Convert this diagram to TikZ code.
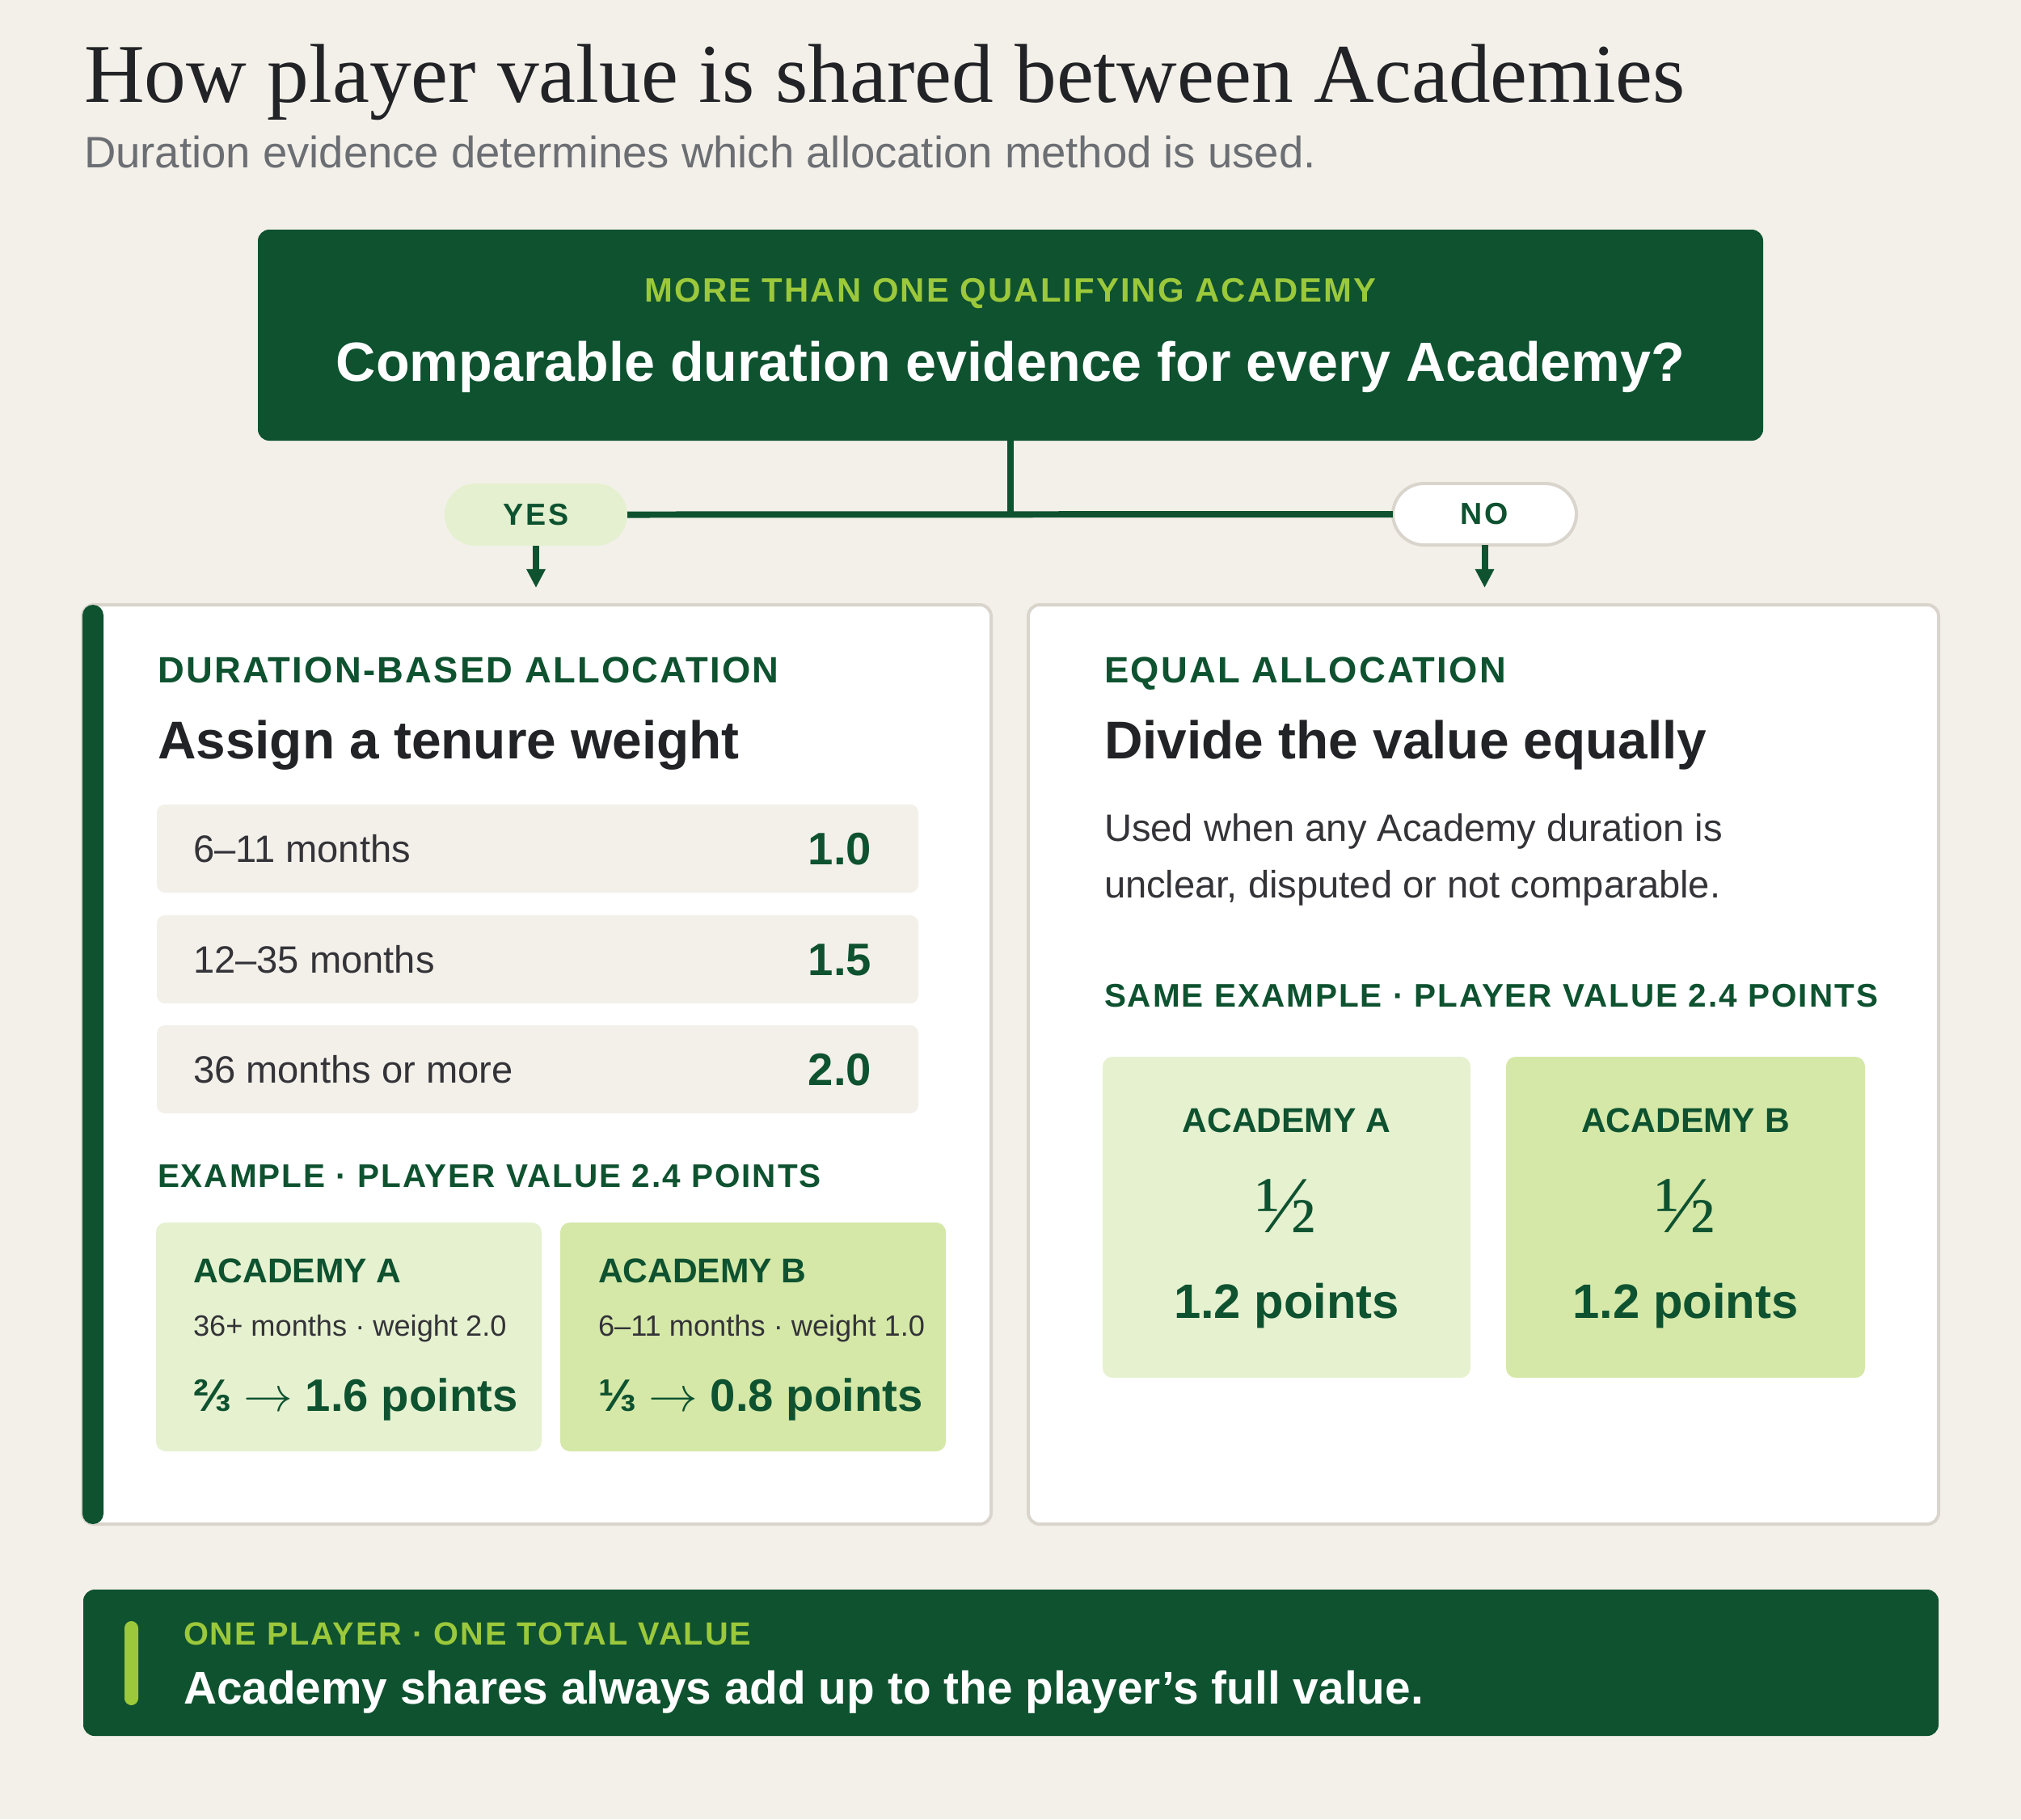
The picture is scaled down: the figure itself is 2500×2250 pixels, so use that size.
\documentclass[tikz,border=0pt]{standalone}
\usepackage{fontspec}
\setmainfont{Liberation Sans}
\newfontfamily\serifx{Liberation Serif}
\newfontfamily\trk[LetterSpace=5]{Liberation Sans}
\newfontfamily\trkw[LetterSpace=7]{Liberation Sans}
\usetikzlibrary{arrows.meta,fit}
\definecolor{bg}{HTML}{F3F0E9}
\definecolor{dkgreen}{HTML}{0E5230}
\definecolor{lime}{HTML}{9CC83B}
\definecolor{paleA}{HTML}{E6F1D0}
\definecolor{paleB}{HTML}{D5E8A8}
\definecolor{paleyes}{HTML}{E4F0CF}
\definecolor{rowfill}{HTML}{F3F0EA}
\definecolor{cardline}{HTML}{D9D5CD}
\definecolor{inkdark}{HTML}{222326}
\definecolor{inkbody}{HTML}{333338}
\definecolor{inkgray}{HTML}{6B6E73}
\newcommand{\fsz}[1]{\fontsize{#1}{#1}\selectfont}
\newcommand{\rarr}{\ensuremath{\rightarrow}}
\tikzset{
  fitbox/.style={rectangle, inner sep=0pt, outer sep=0pt},
  card/.style={fitbox, fill=white, draw=cardline, line width=1.13pt, rounded corners=0.14cm},
  rowbox/.style={fitbox, fill=rowfill, rounded corners=0.1cm},
  txt/.style={inner sep=0pt, outer sep=0pt, anchor=base west},
  conn/.style={draw=dkgreen, line width=2.27pt},
  tip/.style={-{Triangle[width=0.22cm,length=0.23cm]}},
  kicker/.style={txt, text=dkgreen, font=\trk\bfseries\fsz{12.9pt}},
  smallkick/.style={txt, text=dkgreen, font=\trk\bfseries\fsz{11.5pt}},
  headline/.style={txt, text=inkdark, font=\bfseries\fsz{18.7pt}},
  body/.style={txt, text=inkbody, font=\fsz{13.4pt}},
  pill/.style={rectangle, inner sep=0pt, outer sep=0pt, rounded corners=0.385cm,
    text=dkgreen, font=\trkw\bfseries\fsz{10.7pt}},
}
\begin{document}
\begin{tikzpicture}[x=0.01cm, y=-0.01cm]
\fill[bg] (0,0) rectangle (2500,2250);
\useasboundingbox (0,0) rectangle (2500,2250);

% title
\node[txt, text=inkdark, font=\serifx\fsz{29.4pt}] (title) at (104,126) {How player value is shared between Academies};
\node[txt, text=inkgray, font=\fsz{15.5pt}] (subtitle) at (104,207) {Duration evidence determines which allocation method is used.};

% question
\node[fitbox, fill=dkgreen, rounded corners=0.14cm, fit={(319,284)(2181,545)}] (q) {};
\node[txt, anchor=base, text=lime, font=\trk\bfseries\fsz{11.9pt}] (qkick) at (1250,373) {MORE THAN ONE QUALIFYING ACADEMY};
\node[txt, anchor=base, text=white, font=\bfseries\fsz{19.4pt}] (qtext) at (1250,471) {Comparable duration evidence for every Academy?};

% pills
\node[pill, fill=paleyes, minimum width=2.26cm, minimum height=0.77cm] (yes) at (663,636.5) {YES};
\node[pill, fill=white, draw=cardline, line width=1.13pt, minimum width=2.27cm, minimum height=0.76cm] (no) at (1836.5,636) {NO};

% cards
\node[card, fit={(102,748)(1226,1885)}] (cardL) {};
\node[fitbox, fill=dkgreen, rounded corners=0.13cm, fit={(102,748)(128,1885)}] (barL) {};
\node[card, fit={(1272,748)(2398,1885)}] (cardR) {};

% connectors
\coordinate (jn) at (1250,636);
\draw[conn] (q.south) -- (jn);
\draw[conn] (yes.east) -- (no.west);
\draw[conn, tip, shorten >=0.21cm] (yes.south) -- (yes.south |- cardL.north);
\draw[conn, tip, shorten >=0.21cm] (no.south) -- (no.south |- cardR.north);

% left card content
\node[kicker] (lk) at (195,844) {DURATION-BASED ALLOCATION};
\node[headline] (lh) at (195,938) {Assign a tenure weight};
\node[rowbox, fit={(194,995)(1136,1104)}] (r1) {};
\node[rowbox, fit={(194,1132)(1136,1241)}] (r2) {};
\node[rowbox, fit={(194,1268)(1136,1377)}] (r3) {};
\node[body] (r1l) at (239,1066) {6–11 months};
\node[body] (r2l) at (239,1203) {12–35 months};
\node[body] (r3l) at (239,1339) {36 months or more};
\node[txt, anchor=base east, text=dkgreen, font=\bfseries\fsz{16pt}] (r1v) at (1078,1069) {1.0};
\node[txt, anchor=base east, text=dkgreen, font=\bfseries\fsz{16pt}] (r2v) at (1078,1206) {1.5};
\node[txt, anchor=base east, text=dkgreen, font=\bfseries\fsz{16pt}] (r3v) at (1078,1342) {2.0};
\node[smallkick] (lex) at (195,1468) {EXAMPLE · PLAYER VALUE 2.4 POINTS};
\node[fitbox, fill=paleA, rounded corners=0.12cm, fit={(193,1512)(670,1795)}] (eA) {};
\node[fitbox, fill=paleB, rounded corners=0.12cm, fit={(693,1512)(1170,1795)}] (eB) {};
\node[txt, text=dkgreen, font=\bfseries\fsz{12.1pt}] (eAt) at (239,1586) {ACADEMY A};
\node[txt, text=inkbody, font=\fsz{10.3pt}] (eAs) at (239,1652) {36+ months · weight 2.0};
\node[txt, text=dkgreen, font=\bfseries\fsz{16pt}] (eAv) at (239,1745) {⅔ \rarr{} 1.6 points};
\node[txt, text=dkgreen, font=\bfseries\fsz{12.1pt}] (eBt) at (740,1586) {ACADEMY B};
\node[txt, text=inkbody, font=\fsz{10.3pt}] (eBs) at (740,1652) {6–11 months · weight 1.0};
\node[txt, text=dkgreen, font=\bfseries\fsz{16pt}] (eBv) at (740,1745) {⅓ \rarr{} 0.8 points};

% right card content
\node[kicker] (rk) at (1366,844) {EQUAL ALLOCATION};
\node[headline] (rh) at (1366,938) {Divide the value equally};
\node[body] (rb1) at (1366,1040) {Used when any Academy duration is};
\node[body] (rb2) at (1366,1110) {unclear, disputed or not comparable.};
\node[smallkick] (rex) at (1366,1245) {SAME EXAMPLE · PLAYER VALUE 2.4 POINTS};
\node[fitbox, fill=paleA, rounded corners=0.12cm, fit={(1364,1307)(1819,1704)}] (fA) {};
\node[fitbox, fill=paleB, rounded corners=0.12cm, fit={(1863,1307)(2307,1704)}] (fB) {};
\node[txt, anchor=base, text=dkgreen, font=\bfseries\fsz{12.1pt}] (fAt) at (1591.5,1400) {ACADEMY A};
\node[txt, anchor=base, text=dkgreen, font=\serifx\fsz{28.5pt}] (fAh) at (1591.5,1524) {½};
\node[txt, anchor=base, text=dkgreen, font=\bfseries\fsz{17pt}] (fAv) at (1591.5,1630) {1.2 points};
\node[txt, anchor=base, text=dkgreen, font=\bfseries\fsz{12.1pt}] (fBt) at (2085,1400) {ACADEMY B};
\node[txt, anchor=base, text=dkgreen, font=\serifx\fsz{28.5pt}] (fBh) at (2085,1524) {½};
\node[txt, anchor=base, text=dkgreen, font=\bfseries\fsz{17pt}] (fBv) at (2085,1630) {1.2 points};

% banner
\node[fitbox, fill=dkgreen, rounded corners=0.14cm, fit={(103,1966)(2398,2147)}] (ban) {};
\node[fitbox, fill=lime, rounded corners=0.085cm, fit={(154,2005)(171,2109)}] (banbar) {};
\node[txt, text=lime, font=\trk\bfseries\fsz{11.3pt}] (bk) at (227,2034) {ONE PLAYER · ONE TOTAL VALUE};
\node[txt, text=white, font=\bfseries\fsz{16.15pt}] (bt) at (227,2107) {Academy shares always add up to the player’s full value.};
\end{tikzpicture}
\end{document}
